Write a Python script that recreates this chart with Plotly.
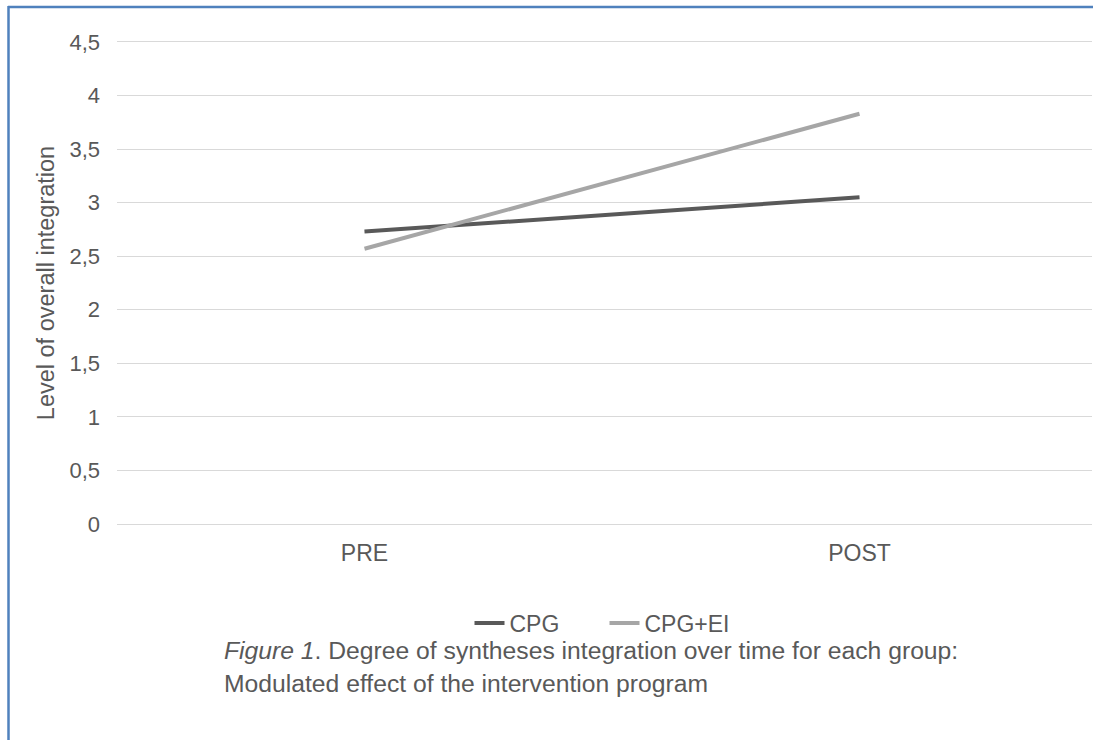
import plotly.graph_objects as go

categories = ["PRE", "POST"]
cpg = [2.73, 3.05]
cpg_ei = [2.57, 3.83]
y_ticks = [0, 0.5, 1, 1.5, 2, 2.5, 3, 3.5, 4, 4.5]
y_tick_labels = ["0", "0,5", "1", "1,5", "2", "2,5", "3", "3,5", "4", "4,5"]

W, H = 1093, 740
L, R, T, B = 117, 1, 42, 216
pw = W - L - R
ph = H - T - B

def px_x(x):
    return (x - L) / pw

def px_y(y):
    return (H - B - y) / ph

font = "Liberation Sans, Arial, sans-serif"
grey_txt = "#595959"
grid = "#D9D9D9"

fig = go.Figure()
fig.add_trace(go.Scatter(x=categories, y=cpg, mode="lines", name="CPG",
                         line=dict(color="#595959", width=4)))
fig.add_trace(go.Scatter(x=categories, y=cpg_ei, mode="lines", name="CPG+EI",
                         line=dict(color="#A6A6A6", width=4)))

fig.update_layout(
    width=W, height=H,
    margin=dict(l=L, r=R, t=T, b=B, autoexpand=False),
    paper_bgcolor="white", plot_bgcolor="white",
    font=dict(family=font, size=22, color=grey_txt),
    showlegend=True,
    legend=dict(orientation="h", x=0.5, xanchor="center", y=px_y(623), yanchor="middle",
                font=dict(size=23, color=grey_txt), entrywidth=90, entrywidthmode="pixels",
                traceorder="normal"),
    xaxis=dict(type="category", range=[-0.5, -0.5 + pw / 495], showgrid=False,
               zeroline=False, showline=True, mirror=True, linecolor=grid, linewidth=1.3,
               ticks="", ticklabelstandoff=8,
               tickfont=dict(size=23, color=grey_txt), fixedrange=True),
    yaxis=dict(range=[0, 4.5], tickvals=y_ticks, ticktext=y_tick_labels,
               showgrid=True, gridcolor=grid, gridwidth=1.3, zeroline=False,
               showline=False, ticks="", ticklabelstandoff=16,
               tickfont=dict(size=22, color=grey_txt),
               title=dict(text="Level of overall integration", standoff=8,
                          font=dict(size=23.5, color=grey_txt)),
               automargin=False, fixedrange=True),
)

# caption
fig.add_annotation(x=px_x(222), y=px_y(650), xref="paper", yref="paper",
                   xanchor="left", yanchor="middle", showarrow=False,
                   text="<i>Figure 1</i>. Degree of syntheses integration over time for each group:",
                   font=dict(size=24.7, color=grey_txt))
fig.add_annotation(x=px_x(222), y=px_y(683), xref="paper", yref="paper",
                   xanchor="left", yanchor="middle", showarrow=False,
                   text="Modulated effect of the intervention program",
                   font=dict(size=24.7, color=grey_txt))

# blue frame (top and left edges)
blue = "#4F81BD"
fig.add_shape(type="line", xref="paper", yref="paper",
              x0=px_x(8), x1=px_x(W + 5), y0=px_y(7), y1=px_y(7),
              line=dict(color=blue, width=2.5))
fig.add_shape(type="line", xref="paper", yref="paper",
              x0=px_x(8.5), x1=px_x(8.5), y0=px_y(6), y1=px_y(H + 5),
              line=dict(color=blue, width=2.5))

fig.write_html("out.html", config={"displayModeBar": False},
               post_script="document.body.style.margin='0';document.body.style.overflow='hidden';")
